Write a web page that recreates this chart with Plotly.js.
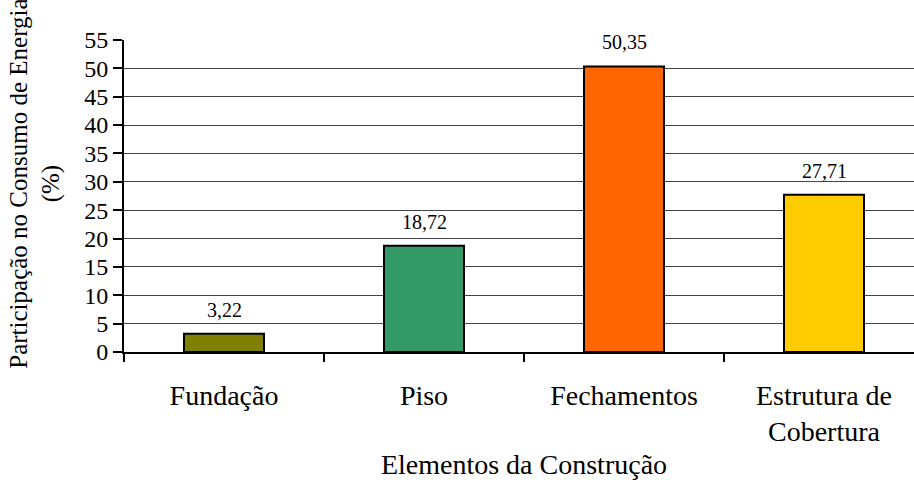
<!DOCTYPE html>
<html>
<head>
<meta charset="utf-8">
<script src="https://cdn.plot.ly/plotly-3.0.1.min.js"></script>
<style>
html,body{margin:0;padding:0;overflow:hidden;background:#fff;width:914px;height:480px;}
#chart{width:940px;height:480px;}
</style>
</head>
<body>
<div id="chart"></div>
<script>
const categories = ["Fundação", "Piso", "Fechamentos", "Estrutura de<br>Cobertura"];
const values = [3.22, 18.72, 50.35, 27.71];
const labels = ["3,22", "18,72", "50,35", "27,71"];
const colors = ["#808000", "#339966", "#FF6600", "#FFCC00"];
const yTicks = [0,5,10,15,20,25,30,35,40,45,50,55];

const FONT = "Liberation Serif";

const trace = {
  type: "bar",
  x: categories,
  y: values,
  width: 0.4,
  marker: {color: colors, line: {color: "#000", width: 2}},
  hoverinfo: "none"
};

const annotations = categories.map((c, i) => ({
  x: c, y: values[i], xref: "x", yref: "y",
  text: labels[i], showarrow: false,
  xanchor: "center", yanchor: "middle", yshift: 24,
  font: {family: FONT, size: 20, color: "#000"}
}));

annotations.push({
  xref: "paper", yref: "paper",
  x: -0.111, y: 0.54,
  xanchor: "center", yanchor: "middle",
  textangle: -90,
  text: "Participação no Consumo de Energia<br>(%)",
  showarrow: false,
  font: {family: FONT, size: 25, color: "#000"}
});

const layout = {
  width: 940, height: 480,
  margin: {l: 124, r: 16, t: 40, b: 128},
  paper_bgcolor: "#fff", plot_bgcolor: "#fff",
  showlegend: false,
  font: {family: FONT, color: "#000"},
  xaxis: {
    type: "category",
    range: [-0.5, 3.5],
    tickson: "boundaries",
    ticks: "outside", ticklen: 8, tickwidth: 2, tickcolor: "#000",
    showline: true, linecolor: "#000", linewidth: 2,
    showgrid: false, zeroline: false,
    tickfont: {family: FONT, size: 28, color: "#000"},
    ticklabelstandoff: 17,
    title: {text: "Elementos da Construção", font: {family: FONT, size: 28, color: "#000"}, standoff: 10},
    automargin: false
  },
  yaxis: {
    range: [0, 55],
    tickmode: "array", tickvals: yTicks, ticktext: yTicks.map(String),
    ticks: "outside", ticklen: 9, tickwidth: 2, tickcolor: "#000",
    showline: true, linecolor: "#000", linewidth: 2,
    showgrid: true, gridcolor: "#444", gridwidth: 1,
    zeroline: false,
    tickfont: {family: FONT, size: 24, color: "#000"},
    automargin: false
  },
  annotations: annotations
};

Plotly.newPlot("chart", [trace], layout, {displayModeBar: false, staticPlot: true});
</script>
</body>
</html>
